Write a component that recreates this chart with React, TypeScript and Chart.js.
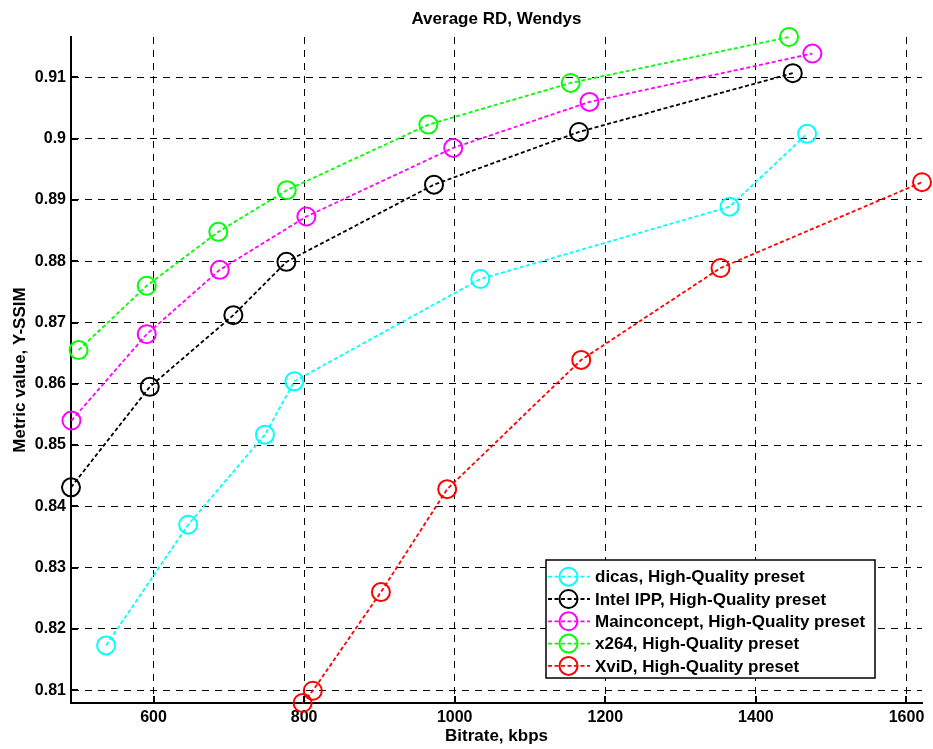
import React, { useEffect, useRef } from "react";
import { Chart, registerables } from "chart.js";

Chart.register(...registerables);

const chartTitle = "Average RD, Wendys";
const xAxisTitle = "Bitrate, kbps";
const yAxisTitle = "Metric value, Y-SSIM";

const seriesNames = [
  "dicas, High-Quality preset",
  "Intel IPP, High-Quality preset",
  "Mainconcept, High-Quality preset",
  "x264, High-Quality preset",
  "XviD, High-Quality preset",
];
const seriesColors = ["#00ffff", "#000000", "#ff00ff", "#00ff00", "#ff0000"];

const dicasX = [537, 646, 748, 787, 1034, 1365, 1468];
const dicasY = [0.8173, 0.837, 0.8517, 0.8604, 0.8771, 0.8889, 0.9008];
const intelX = [490.4, 595, 706, 776.5, 972.5, 1165, 1449];
const intelY = [0.8431, 0.8595, 0.8712, 0.8799, 0.8925, 0.9011, 0.9107];
const mainX = [491, 591, 688, 803, 998, 1179, 1475];
const mainY = [0.854, 0.8681, 0.8786, 0.8873, 0.8985, 0.906, 0.9139];
const x264X = [500.5, 591, 686, 777, 965, 1154, 1444];
const x264Y = [0.8655, 0.876, 0.8848, 0.8916, 0.9023, 0.9091, 0.9166];
const xvidX = [798, 811.5, 902, 990, 1168, 1353, 1620.6];
const xvidY = [0.8079, 0.8099, 0.826, 0.8428, 0.8639, 0.8789, 0.8929];

const xTickValues = [600, 800, 1000, 1200, 1400, 1600];
const yTickValues = [0.81, 0.82, 0.83, 0.84, 0.85, 0.86, 0.87, 0.88, 0.89, 0.9, 0.91];

const FONT_FAMILY = '"Liberation Sans", Arial, Helvetica, sans-serif';

export default function App() {
  const ref = useRef<HTMLCanvasElement>(null);

  useEffect(() => {
    if (!ref.current) return;
    const xs = [dicasX, intelX, mainX, x264X, xvidX];
    const ys = [dicasY, intelY, mainY, x264Y, xvidY];
    const allX = xs.flat();
    const allY = ys.flat();

    const deco = {
      id: "deco",
      afterDraw(chart: any) {
        const ctx = chart.ctx as CanvasRenderingContext2D;
        const area = chart.chartArea;
        const sx = chart.scales.x;
        const sy = chart.scales.y;
        ctx.save();
        // inward tick marks
        ctx.strokeStyle = "#000";
        ctx.lineWidth = 2;
        ctx.beginPath();
        xTickValues.forEach((v) => {
          const px = Math.round(sx.getPixelForValue(v));
          ctx.moveTo(px, area.bottom);
          ctx.lineTo(px, area.bottom - 7);
        });
        yTickValues.forEach((v) => {
          const py = Math.round(sy.getPixelForValue(v));
          ctx.moveTo(area.left, py);
          ctx.lineTo(area.left + 7, py);
        });
        ctx.stroke();

        // titles
        ctx.fillStyle = "#000";
        ctx.font = `bold 17px ${FONT_FAMILY}`;
        ctx.textAlign = "center";
        ctx.textBaseline = "alphabetic";
        const cx = (area.left + area.right) / 2;
        ctx.fillText(chartTitle, cx, 24);
        ctx.fillText(xAxisTitle, cx, 741);
        ctx.save();
        ctx.translate(25, (area.top + area.bottom) / 2);
        ctx.rotate(-Math.PI / 2);
        ctx.fillText(yAxisTitle, 0, 0);
        ctx.restore();

        // legend
        const w = 329;
        const h = 118;
        const left = area.right - 47 - w;
        const top = area.bottom - 25 - h;
        ctx.fillStyle = "#fff";
        ctx.fillRect(left, top, w, h);
        ctx.strokeStyle = "#000";
        ctx.lineWidth = 1.5;
        ctx.strokeRect(left, top, w, h);
        ctx.font = `bold 17px ${FONT_FAMILY}`;
        ctx.textAlign = "left";
        ctx.textBaseline = "middle";
        chart.data.datasets.forEach((ds: any, i: number) => {
          const cy = top + 16.7 + i * 22.3;
          ctx.strokeStyle = ds.borderColor;
          ctx.lineWidth = 1.8;
          ctx.setLineDash([4, 2.5]);
          ctx.beginPath();
          ctx.moveTo(left + 2, cy);
          ctx.lineTo(left + 44, cy);
          ctx.stroke();
          ctx.setLineDash([]);
          ctx.lineWidth = 2;
          ctx.beginPath();
          ctx.arc(left + 22.5, cy, 9, 0, Math.PI * 2);
          ctx.stroke();
          ctx.fillStyle = "#000";
          ctx.fillText(ds.label, left + 49, cy + 1);
        });
        ctx.restore();
      },
    };

    const chart = new Chart(ref.current, {
      type: "line",
      data: {
        datasets: seriesNames.map((name, i) => ({
          label: name,
          data: xs[i].map((x, j) => ({ x, y: ys[i][j] })),
          borderColor: seriesColors[i],
          backgroundColor: "transparent",
          borderWidth: 1.8,
          borderDash: [4, 2.5],
          pointRadius: 9,
          pointHoverRadius: 9,
          pointBorderWidth: 2,
          pointBackgroundColor: "transparent",
          pointBorderColor: seriesColors[i],
          pointStyle: "circle",
          tension: 0,
          fill: false,
          clip: false,
        })),
      },
      options: {
        responsive: false,
        animation: false,
        layout: { padding: { left: 0, top: 37, right: 11, bottom: 0 } },
        plugins: {
          legend: { display: false },
          title: { display: false },
          tooltip: { enabled: false },
        },
        scales: {
          x: {
            type: "linear",
            min: Math.min(...allX),
            max: Math.max(...allX),
            afterFit: (s: any) => {
              s.height = 46;
            },
            afterBuildTicks: (s: any) => {
              s.ticks = xTickValues.map((v) => ({ value: v }));
            },
            grid: { color: "#000", lineWidth: 1, drawTicks: false },
            border: { display: true, color: "#000", width: 2, dash: [7, 6] },
            ticks: {
              color: "#000",
              font: { family: FONT_FAMILY, size: 16, weight: "bold" },
              padding: 5,
              maxRotation: 0,
              autoSkip: false,
              callback: (v: any) => String(v),
            },
          },
          y: {
            type: "linear",
            min: Math.min(...allY),
            max: Math.max(...allY),
            afterFit: (s: any) => {
              s.width = 71;
            },
            afterBuildTicks: (s: any) => {
              s.ticks = yTickValues.map((v) => ({ value: v }));
            },
            grid: { color: "#000", lineWidth: 1, drawTicks: false },
            border: { display: true, color: "#000", width: 2, dash: [7, 6] },
            ticks: {
              color: "#000",
              font: { family: FONT_FAMILY, size: 16, weight: "bold" },
              padding: 5,
              autoSkip: false,
              callback: (v: any) => String(v),
            },
          },
        },
      },
      plugins: [deco],
    } as any);

    return () => chart.destroy();
  }, []);

  return (
    <div
      style={{
        position: "fixed",
        left: 0,
        top: 0,
        width: 933,
        height: 749,
        background: "#fff",
      }}
    >
      <canvas ref={ref} width={933} height={749} style={{ display: "block" }} />
    </div>
  );
}
